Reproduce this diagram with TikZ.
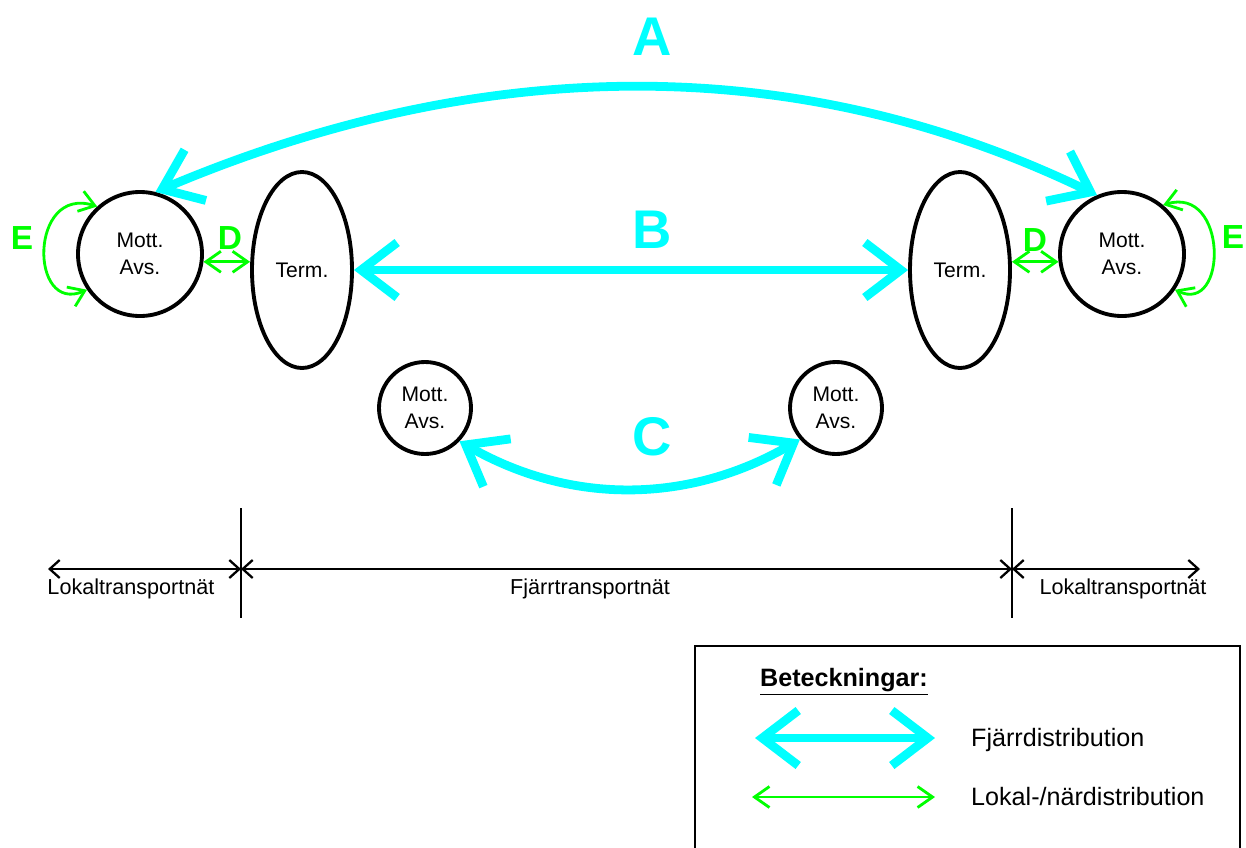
\documentclass[tikz,border=0pt]{standalone}
\usepackage{fontspec}
\setmainfont{Liberation Sans}
\usetikzlibrary{arrows.meta, shapes.geometric}
\definecolor{fjarrcyan}{RGB}{0,255,255}
\definecolor{lokalgreen}{RGB}{0,255,0}

\begin{document}
\begin{tikzpicture}
            [mott/.style={shape=circle, draw=black, line width=2.2pt, minimum size=2.48cm, inner sep=0pt, align=center, font=\fontsize{12}{15}\selectfont},
             smallmott/.style={mott, minimum size=1.84cm},
             term/.style={shape=ellipse, draw=black, line width=2.2pt, minimum width=2cm, minimum height=3.92cm, inner sep=0pt, font=\fontsize{12}{15}\selectfont},
             fjarr/.style={fjarrcyan, line width=5pt, {Straight Barb[length=0.72cm,width=1.1cm]}-{Straight Barb[length=0.72cm,width=1.1cm]}},
             lokal/.style={lokalgreen, line width=1.6pt, {Straight Barb[length=0.3cm,width=0.42cm]}-{Straight Barb[length=0.3cm,width=0.42cm]}},
             skala/.style={black, line width=1.3pt, {Straight Barb[length=0.2cm,width=0.36cm]}-{Straight Barb[length=0.2cm,width=0.36cm]}},
             bigletter/.style={fjarrcyan, font=\fontsize{31}{31}\selectfont\bfseries},
             smallletter/.style={lokalgreen, font=\fontsize{19}{19}\selectfont\bfseries},
             netlabel/.style={font=\fontsize{12.3}{14}\selectfont},
             legendtext/.style={anchor=west, font=\fontsize{14.3}{16}\selectfont}]
            \useasboundingbox (0, 0) rectangle (24.92, -16.94);

            \node[mott] (m1) at (2.8, -5.08) {Mott.\\Avs.};
            \node[term] (t1) at (6.04, -5.4) {Term.};
            \node[term] (t2) at (19.2, -5.4) {Term.};
            \node[mott] (m2) at (22.44, -5.08) {Mott.\\Avs.};
            \node[smallmott] (s1) at (8.5, -8.16) {Mott.\\Avs.};
            \node[smallmott] (s2) at (16.72, -8.16) {Mott.\\Avs.};

            \node[bigletter] (lA) at (13.04, -0.74) {A};
            \node[bigletter] (lB) at (13.04, -4.6) {B};
            \node[bigletter] (lC) at (13.04, -8.74) {C};
            \node[smallletter] (lD1) at (4.6, -4.76) {D};
            \node[smallletter] (lD2) at (20.7, -4.8) {D};
            \node[smallletter] (lE1) at (0.44, -4.76) {E};
            \node[smallletter] (lE2) at (24.66, -4.74) {E};

            \draw[fjarr] (m1.76) .. controls (9.68, -1.06) and (15.98, -1.02) .. (m2.113);
            \draw[fjarr] (t1.east) -- (t2.west);
            \draw[fjarr] (s1.-44) .. controls (11.42, -10.1) and (13.78, -10.08) .. (s2.-139);
            \draw[lokal] (m1.-7) -- (m1.-7 -| t1.west);
            \draw[lokal] (m2.187) -- (m2.187 -| t2.east);
            \draw[lokal] (m1.132) .. controls (0.58, -3.7) and (0.58, -6.3) .. (m1.214);
            \draw[lokal] (m2.50) .. controls (24.56, -3.7) and (24.56, -6.3) .. (m2.-34);

            \coordinate (k0) at (0.96, -11.38);
            \coordinate (k1) at (4.82, -11.38);
            \coordinate (k2) at (20.24, -11.38);
            \coordinate (k3) at (24.0, -11.38);
            \draw[line width=1.3pt] (4.82, -10.16) -- (4.82, -12.36);
            \draw[line width=1.3pt] (20.24, -10.16) -- (20.24, -12.36);
            \draw[skala] (k0) -- (k1);
            \draw[skala] (k1) -- (k2);
            \draw[skala] (k2) -- (k3);
            \node[netlabel] (n1) at (2.62, -11.78) {Lokaltransportnät};
            \node[netlabel] (n2) at (11.8, -11.78) {Fjärrtransportnät};
            \node[netlabel] (n3) at (22.46, -11.78) {Lokaltransportnät};

            \draw[line width=1pt] (13.9, -12.92) rectangle (24.8, -17.5);
            \node[legendtext, font=\fontsize{14.3}{16}\selectfont\bfseries] (leg) at (15.08, -13.64) {\underline{Beteckningar:}};
            \coordinate (f1) at (15.1, -14.76);
            \coordinate (f2) at (18.7, -14.76);
            \coordinate (g1) at (15.04, -15.94);
            \coordinate (g2) at (18.7, -15.94);
            \draw[fjarr] (f1) -- (f2);
            \draw[lokal] (g1) -- (g2);
            \node[legendtext] (lf) at (19.3, -14.8) {Fjärrdistribution};
            \node[legendtext] (ll) at (19.3, -15.94) {Lokal-/närdistribution};
        \end{tikzpicture}
\end{document}
